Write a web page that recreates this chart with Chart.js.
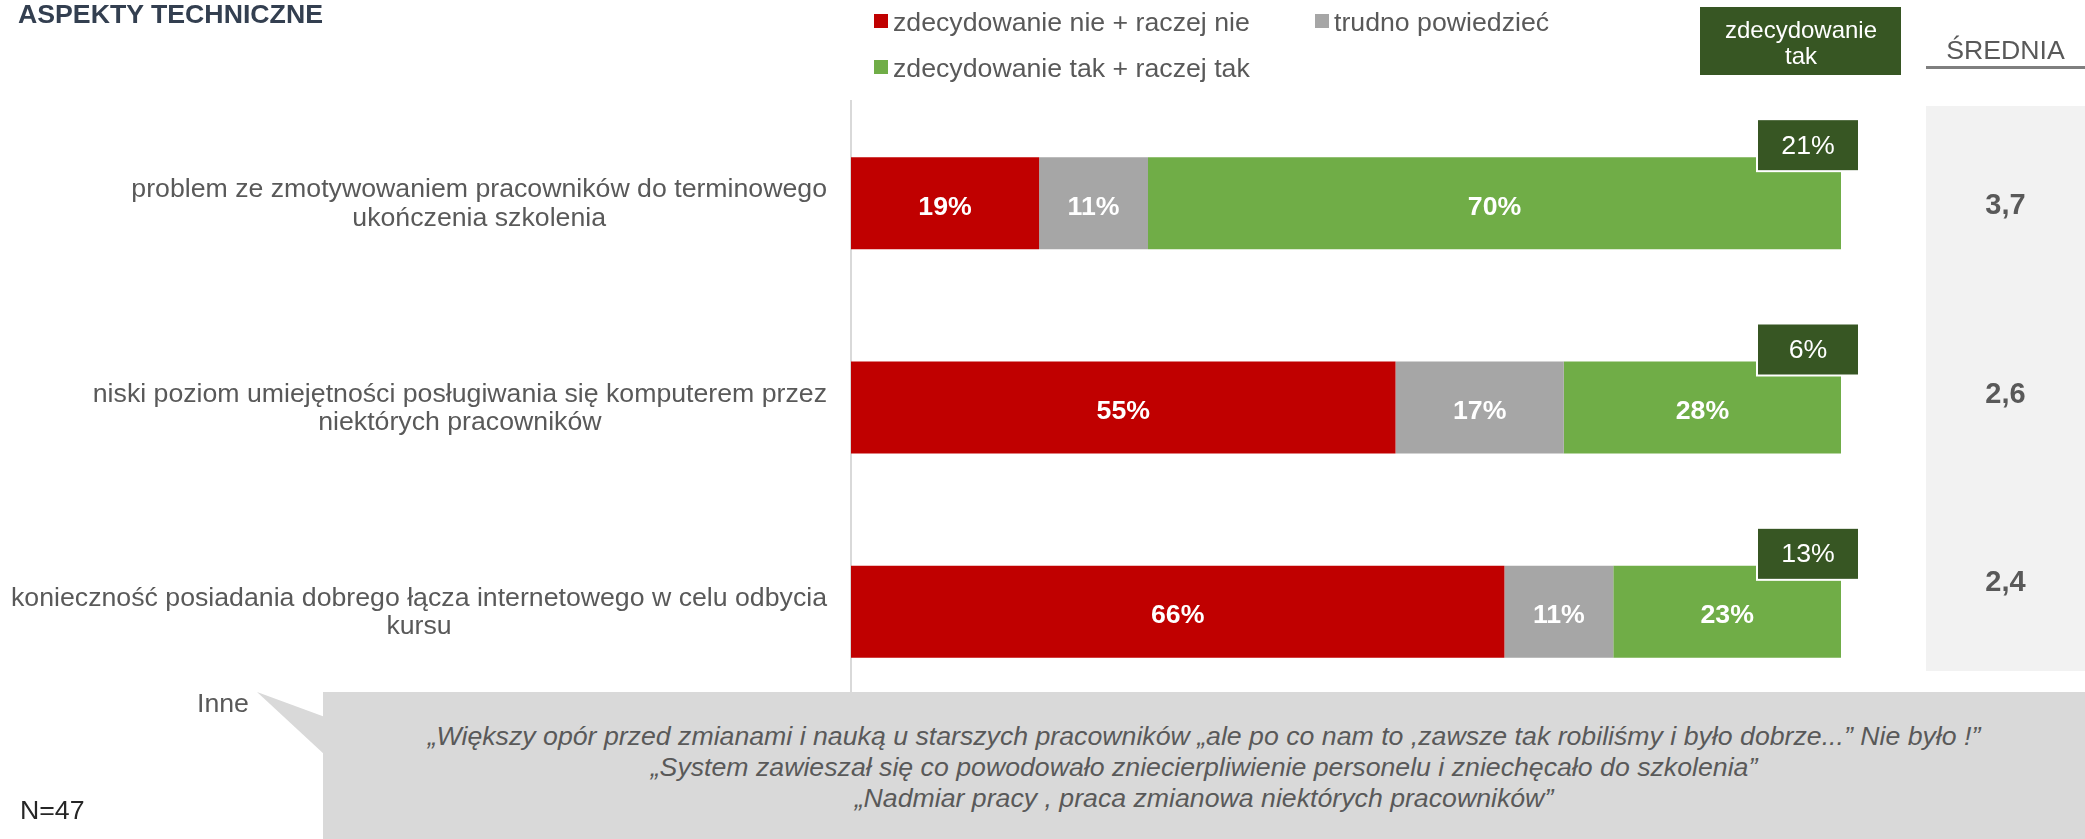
<!DOCTYPE html>
<html lang="pl">
<head>
<meta charset="utf-8">
<title>Aspekty techniczne</title>
<script src="https://cdn.jsdelivr.net/npm/chart.js@4.4.1/dist/chart.umd.min.js"></script>
<style>
  body { margin: 0; background: #fff; font-family: "Liberation Sans", Arial, sans-serif; }
  #wrap { position: relative; width: 2085px; height: 839px; overflow: hidden; }
  #chart { position: absolute; left: 0; top: 0; }
  .title { position: absolute; left: 18px; top: -1px; line-height: 30px; font-size: 26.7px; font-weight: bold; color: #333f50; }
  .inne { position: absolute; left: 197px; top: 688px; line-height: 30px; font-size: 26.7px; color: #595959; }
  .pointer { position: absolute; left: 257px; top: 692px; width: 68px; height: 63px; background: #d9d9d9;
             clip-path: polygon(0 0, 68px 25px, 68px 63px); }
  .callout { position: absolute; left: 323px; top: 692px; width: 1762px; height: 147px; background: #d9d9d9;
             box-sizing: border-box; padding-top: 29px; text-align: center; font-style: italic;
             font-size: 26.7px; line-height: 31px; color: #595959; white-space: nowrap; }
  .n { position: absolute; left: 20px; top: 795px; line-height: 30px; font-size: 26.7px; color: #262626; }
</style>
</head>
<body>
<div id="wrap">
  <canvas id="chart" width="2085" height="839"></canvas>
  <div class="title">ASPEKTY TECHNICZNE</div>
  <div class="inne">Inne</div>
  <div class="pointer"></div>
  <div class="callout">
    „Większy opór przed zmianami i nauką u starszych pracowników „ale po co nam to ,zawsze tak robiliśmy i było dobrze...” Nie było !”<br>
    „System zawieszał się co powodowało zniecierpliwienie personelu i zniechęcało do szkolenia”<br>
    „Nadmiar pracy , praca zmianowa niektórych pracowników”
  </div>
  <div class="n">N=47</div>
</div>

<script>
// chart data
const categories = [
    ['problem ze zmotywowaniem pracowników do terminowego', 'ukończenia szkolenia'],
    ['niski poziom umiejętności posługiwania się komputerem przez', 'niektórych pracowników'],
    ['konieczność posiadania dobrego łącza internetowego w celu odbycia', 'kursu']
];
const seriesNames = ['zdecydowanie nie + raczej nie', 'trudno powiedzieć', 'zdecydowanie tak + raczej tak'];
const noValues = [19, 55, 66];
const unsureValues = [11, 17, 11];
const yesValues = [70, 28, 23];
const definitelyYes = [21, 6, 13];
const means = ['3,7', '2,6', '2,4'];

const FONT = '"Liberation Sans", Arial, sans-serif';

// Draws the labels, legend, "zdecydowanie tak" boxes and the mean column
const extrasPlugin = {
    id: 'extras',
    afterDatasetsDraw(chart) {
        const { ctx, chartArea } = chart;
        const xScale = chart.scales.x;
        const yScale = chart.scales.y;
        ctx.save();
        ctx.textAlign = 'center';
        ctx.textBaseline = 'middle';

        // category labels: block right aligned, lines centred inside it
        ctx.font = `26.7px ${FONT}`;
        ctx.fillStyle = '#595959';
        categories.forEach((lines, i) => {
            const w = Math.max(...lines.map(l => ctx.measureText(l).width));
            const cx = chartArea.left - 24 - w / 2;
            const cy = yScale.getPixelForValue(i) + 1;
            lines.forEach((l, j) => {
                ctx.fillText(l, cx, cy + (j - (lines.length - 1) / 2) * 28.5);
            });
        });

        // values inside the bar segments
        ctx.font = `bold 26.7px ${FONT}`;
        ctx.fillStyle = '#fff';
        chart.data.datasets.forEach((ds, d) => {
            chart.getDatasetMeta(d).data.forEach((bar, i) => {
                ctx.fillText(ds.data[i] + '%', (bar.x + bar.base) / 2, bar.y + 4);
            });
        });

        // "zdecydowanie tak" boxes over the bar ends
        const end = xScale.getPixelForValue(100);
        ctx.font = `26.7px ${FONT}`;
        definitelyYes.forEach((v, i) => {
            const cx = end - 33;
            const cy = yScale.getPixelForValue(i) - 58;
            ctx.fillStyle = '#fff';
            ctx.fillRect(cx - 52, cy - 27, 104, 54);
            ctx.fillStyle = '#375623';
            ctx.fillRect(cx - 50, cy - 25, 100, 50);
            ctx.fillStyle = '#fff';
            ctx.fillText(v + '%', cx, cy + 1);
        });

        // header box
        ctx.fillStyle = '#375623';
        ctx.fillRect(end - 141, 7, 201, 68);
        ctx.fillStyle = '#fff';
        ctx.font = `24px ${FONT}`;
        ctx.fillText('zdecydowanie', end - 40, 31);
        ctx.fillText('tak', end - 40, 57);

        // mean column
        const panelLeft = end + 85;
        const panelTop = chartArea.top + 5;
        const panelBottom = chartArea.bottom - 43;
        const panelRight = chart.width;
        ctx.fillStyle = '#f2f2f2';
        ctx.fillRect(panelLeft, panelTop, panelRight - panelLeft, panelBottom - panelTop);
        const mid = (panelLeft + panelRight) / 2;
        ctx.fillStyle = '#595959';
        ctx.font = `26.7px ${FONT}`;
        ctx.fillText('ŚREDNIA', mid, 52);
        ctx.fillStyle = '#7f7f7f';
        ctx.fillRect(panelLeft, 66, panelRight - panelLeft, 3);
        const rowH = (panelBottom - panelTop) / means.length;
        ctx.fillStyle = '#595959';
        ctx.font = `bold 29px ${FONT}`;
        means.forEach((m, i) => {
            ctx.fillText(m, mid, panelTop + rowH * (i + 0.5) + 6);
        });

        // legend
        const legendPos = [
            { x: chartArea.left + 23, y: 21 },
            { x: chartArea.left + 464, y: 21 },
            { x: chartArea.left + 23, y: 67 }
        ];
        ctx.font = `26.7px ${FONT}`;
        ctx.textAlign = 'left';
        chart.data.datasets.forEach((ds, d) => {
            const p = legendPos[d];
            ctx.fillStyle = ds.backgroundColor;
            ctx.fillRect(p.x, p.y - 7, 14, 14);
            ctx.fillStyle = '#595959';
            ctx.fillText(ds.label, p.x + 19, p.y + 3);
        });

        ctx.restore();
    }
};

new Chart(document.getElementById('chart'), {
    type: 'bar',
    data: {
        labels: categories,
        datasets: [
            { label: seriesNames[0], data: noValues, backgroundColor: '#c00000' },
            { label: seriesNames[1], data: unsureValues, backgroundColor: '#a6a6a6' },
            { label: seriesNames[2], data: yesValues, backgroundColor: '#70ad47' }
        ]
    },
    options: {
        indexAxis: 'y',
        responsive: false,
        animation: false,
        barPercentage: 0.45,
        categoryPercentage: 1,
        layout: { padding: { left: 851, right: 244, top: 101, bottom: 125 } },
        plugins: {
            legend: { display: false },
            tooltip: { enabled: false }
        },
        scales: {
            x: { stacked: true, min: 0, max: 100, display: false },
            y: {
                stacked: true,
                ticks: { display: false },
                grid: { display: false, drawTicks: false },
                border: { color: '#d9d9d9', width: 2 }
            }
        }
    },
    plugins: [extrasPlugin]
});
</script>
</body>
</html>
